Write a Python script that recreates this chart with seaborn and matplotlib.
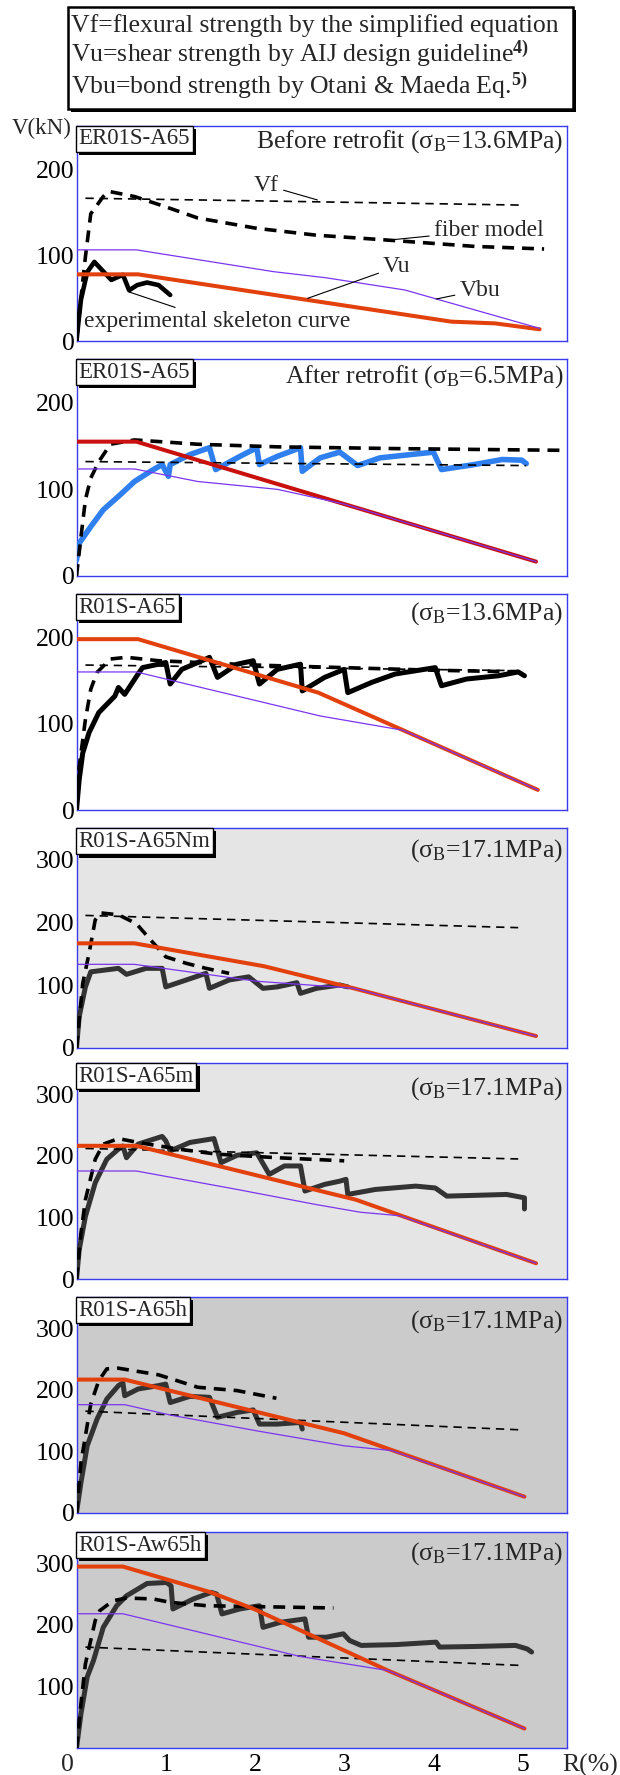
import matplotlib
matplotlib.use("Agg")
import matplotlib.pyplot as plt
import matplotlib.patheffects as pe
from matplotlib.patches import Rectangle
import seaborn as sns

# ---------------- data ----------------
panel_names = ["ER01S-A65", "ER01S-A65", "R01S-A65", "R01S-A65Nm",
               "R01S-A65m", "R01S-A65h", "R01S-Aw65h"]
panel_titles = [r"Before retrofit ($\sigma_{B}$=13.6MPa)",
                r"After retrofit ($\sigma_{B}$=6.5MPa)",
                r"($\sigma_{B}$=13.6MPa)",
                r"($\sigma_{B}$=17.1MPa)",
                r"($\sigma_{B}$=17.1MPa)",
                r"($\sigma_{B}$=17.1MPa)",
                r"($\sigma_{B}$=17.1MPa)"]
y_max = [250, 250, 250, 350, 350, 350, 350]
y_major = [[0, 100, 200], [0, 100, 200], [0, 100, 200],
           [0, 100, 200, 300], [0, 100, 200, 300], [0, 100, 200, 300],
           [100, 200, 300]]
y_minor = [[50, 150], [50, 150], [50, 150],
           [50, 150, 250], [50, 150, 250], [50, 150, 250], [50, 150, 250]]
x_ticks = [1, 2, 3, 4, 5]
x_ticklabels = ["1", "2", "3", "4", "5"]

legend_lines = ["Vf=flexural strength by the simplified equation",
                r"Vu=shear strength by AIJ design guideline$^{\mathbf{4)}}$",
                r"Vbu=bond strength by Otani & Maeda Eq.$^{\mathbf{5)}}$"]

# Panel 1 : ER01S-A65 before retrofit
p1_vf_x = [0.1, 2.0, 5.0]
p1_vf_y = [166, 163, 158]
p1_fib_x = [0, 0.05, 0.1, 0.16, 0.3, 0.36, 0.65, 1.0, 1.36, 2.02, 2.69, 3.26, 3.8, 4.46, 5.24]
p1_fib_y = [0, 50, 98, 148, 168, 174, 168, 156, 143, 131, 123, 119, 115, 110, 107]
p1_vu_x = [0, 0.69, 4.2, 4.69, 5.19]
p1_vu_y = [77.5, 77.5, 22.5, 20.5, 13.6]
p1_vbu_x = [0, 0.67, 2.21, 2.79, 3.68, 5.19]
p1_vbu_y = [106, 106, 80.6, 73.6, 59.3, 14.7]
p1_exp_x = [0, 0.02, 0.05, 0.12, 0.2, 0.39, 0.52, 0.59, 0.68, 0.79, 0.92, 1.05]
p1_exp_y = [0, 20, 48, 80, 92, 71, 77, 59, 65, 68, 65, 53.5]

# Panel 2 : ER01S-A65 after retrofit
p2_vf_x = [0.1, 5.04]
p2_vf_y = [132, 127.4]
p2_fib_x = [0, 0.05, 0.1, 0.16, 0.25, 0.38, 0.65, 1.36, 2.25, 3.57, 5.44]
p2_fib_y = [0, 45, 88, 113, 132, 152, 157, 152, 149, 147, 145]
p2_vu_x = [0, 0.67, 5.15]
p2_vu_y = [155, 155, 16.6]
p2_vbu_x = [0, 0.65, 1.36, 2.25, 3.0, 5.15]
p2_vbu_y = [123.5, 123.5, 109, 100, 83, 16.6]
p2_exp_x = [0, 0.03, 0.16, 0.3, 0.47, 0.65, 0.83, 0.96, 1.03, 1.05, 1.27, 1.49, 1.56,
            1.8, 2.02, 2.05, 2.25, 2.51, 2.53, 2.73, 2.95, 3.15, 3.4, 4.0, 4.09, 4.46,
            4.77, 4.99, 5.04]
p2_exp_y = [18.5, 37.8, 57, 76.4, 91.9, 109, 120.8, 128.6, 115, 128.6, 140, 148, 122.8,
            136.3, 148, 128.6, 138, 148, 120.8, 136.3, 142.9, 127.4, 136.3, 142.9, 122.8,
            128.6, 134.4, 133.6, 129.7]

# Panel 3 : R01S-A65
p3_vf_x = [0.1, 4.95]
p3_vf_y = [168, 161.5]
p3_fib_x = [0, 0.03, 0.1, 0.16, 0.23, 0.38, 0.56, 0.92, 1.14, 2.0, 3.0, 4.0, 5.0]
p3_fib_y = [0, 50, 105, 140, 159.5, 175, 177, 173, 172, 168, 165, 162, 160]
p3_vu_x = [0, 0.69, 2.71, 5.17]
p3_vu_y = [198, 198, 136, 23.3]
p3_vbu_x = [0, 0.67, 2.73, 3.66, 5.17]
p3_vbu_y = [160, 160, 109, 92.4, 23.3]
p3_exp_x = [0, 0.03, 0.07, 0.14, 0.25, 0.43, 0.47, 0.54, 0.69, 0.74, 0.92, 1.0, 1.05,
            1.18, 1.45, 1.49, 1.58, 1.8, 1.98, 2.05, 2.25, 2.51, 2.53, 2.78, 3.0, 3.04,
            3.31, 3.57, 4.02, 4.09, 4.37, 4.73, 4.95, 5.02]
p3_exp_y = [0, 35, 66, 89.5, 113, 132, 142, 134, 157.6, 165, 169, 171, 146, 163, 175,
            177, 153.7, 169, 173, 146, 163, 169, 138, 153.7, 163, 136, 148, 157.6, 165,
            144, 151.8, 155.6, 160, 155.6]

# Panel 4 : R01S-A65Nm
p4_vf_x = [0.1, 4.95]
p4_vf_y = [211, 191.5]
p4_fib_x = [0, 0.07, 0.14, 0.21, 0.27, 0.47, 0.67, 0.83, 1.0, 1.23, 1.45, 1.71]
p4_fib_y = [0, 102.7, 150, 204, 215, 212, 198, 172, 145, 134.6, 126.6, 118.6]
p4_vu_x = [0, 0.65, 2.1, 3.1, 5.15]
p4_vu_y = [166.5, 166.5, 130, 95, 18.6]
p4_vbu_x = [0, 0.65, 2.02, 3.1, 5.15]
p4_vbu_y = [133, 133, 106, 95, 18.6]
p4_exp_x = [0, 0.03, 0.1, 0.16, 0.47, 0.56, 0.78, 0.96, 1.0, 1.45, 1.49, 1.71, 1.93,
            2.09, 2.25, 2.47, 2.51, 2.69, 2.95, 3.04]
p4_exp_y = [0, 49.5, 97, 121, 126.6, 117, 126.6, 126.6, 97, 118.6, 94.7, 108, 113,
            94.7, 97, 103.7, 86.7, 94.7, 100, 97]

# Panel 5 : R01S-A65m
p5_vf_x = [0.1, 4.95]
p5_vf_y = [212, 195]
p5_fib_x = [0, 0.05, 0.1, 0.21, 0.3, 0.47, 0.69, 1.14, 1.58, 2.25, 3.0]
p5_fib_y = [0, 75, 129, 194.6, 219, 228, 221.7, 211, 202.7, 197, 192]
p5_vu_x = [0, 0.67, 3.13, 5.15]
p5_vu_y = [216.3, 216.3, 129, 26]
p5_vbu_x = [0, 0.67, 1.8, 2.69, 3.18, 3.62, 5.15]
p5_vbu_y = [175.5, 175.5, 145.6, 121, 108.7, 103, 26]
p5_exp_x = [0, 0.03, 0.1, 0.21, 0.34, 0.47, 0.52, 0.56, 0.69, 0.96, 1.0, 1.05, 1.27,
            1.54, 1.62, 1.8, 2.02, 2.16, 2.33, 2.51, 2.56, 2.78, 2.95, 3.02, 3.04, 3.35,
            3.8, 4.02, 4.15, 4.46, 4.82, 5.02, 5.02]
p5_exp_y = [0, 47.8, 102, 156.5, 194.6, 211, 216, 197, 219, 231.5, 224.5, 208, 221.7,
            228, 189, 201, 205, 170, 183.7, 183.7, 143, 153.8, 159, 162, 137.5, 145.6,
            151, 148, 134.8, 136, 137.5, 132, 114]

# Panel 6 : R01S-A65h
p6_vf_x = [0.1, 4.95]
p6_vf_y = [165, 134.8]
p6_fib_x = [0, 0.05, 0.1, 0.16, 0.25, 0.34, 0.47, 0.92, 1.36, 1.8, 2.24]
p6_fib_y = [0, 81.5, 125, 176.6, 214.7, 233.7, 234.8, 224, 203.8, 198.4, 186]
p6_vu_x = [0, 0.54, 3.0, 5.02]
p6_vu_y = [216.3, 216.3, 129, 26]
p6_vbu_x = [0, 0.54, 1.05, 2.02, 3.0, 3.53, 5.02]
p6_vbu_y = [175.5, 175.5, 158.7, 133, 108.7, 101, 26]
p6_exp_x = [0, 0.05, 0.12, 0.23, 0.34, 0.47, 0.52, 0.54, 0.69, 0.92, 1.0, 1.05, 1.27,
            1.49, 1.58, 1.8, 1.98, 2.05, 2.25, 2.51, 2.53]
p6_exp_y = [0, 48.9, 108.7, 152, 184.8, 206.5, 210.9, 190, 201, 206.5, 209, 179, 189,
            187.5, 155, 163, 167, 144, 144, 146.7, 136]

# Panel 7 : R01S-Aw65h
p7_vf_x = [0.1, 4.96]
p7_vf_y = [164, 134.4]
p7_fib_x = [0, 0.05, 0.1, 0.21, 0.26, 0.41, 0.56, 0.86, 1.05, 1.46, 2.88]
p7_fib_y = [0, 72.6, 137, 207, 223, 239, 243.5, 242, 236.5, 231, 227.4]
p7_vu_x = [0, 0.52, 1.5, 2.0, 3.49, 5.02]
p7_vu_y = [294.5, 294.5, 253, 225, 126, 32]
p7_vbu_x = [0, 0.52, 2.5, 3.49, 5.02]
p7_vbu_y = [218, 218, 149, 126, 32]
p7_exp_x = [0, 0.05, 0.12, 0.19, 0.30, 0.45, 0.56, 0.79, 1.01, 1.06, 1.08, 1.31, 1.51,
            1.57, 1.63, 1.83, 2.05, 2.09, 2.28, 2.56, 2.60, 2.80, 2.99, 3.06, 3.19, 3.58,
            4.03, 4.07, 4.47, 4.92, 5.05, 5.10]
p7_exp_y = [0, 56, 115.6, 142, 196, 231, 247, 267, 268.7, 263, 225.8, 242, 252.6, 250,
            217.7, 225.8, 231, 196, 204, 209.7, 180, 180, 185.5, 174.7, 166.7, 168, 172,
            164, 165, 166.7, 161, 156]

# ---------------- style ----------------
sns.set_theme(style="white")
plt.rcParams["font.family"] = ["Liberation Serif", "DejaVu Serif"]
plt.rcParams["mathtext.fontset"] = "custom"
plt.rcParams["mathtext.rm"] = "Liberation Serif"
plt.rcParams["mathtext.it"] = "Liberation Serif"
plt.rcParams["mathtext.bf"] = "Liberation Serif:bold"
plt.rcParams["mathtext.default"] = "regular"

BLUE = "#3a3af0"
VU_C = "#e2400c"
VU_C2 = "#c8100c"
VBU_C = "#7a35f0"
EXP_C = ["#000000", "#2f80ee", "#000000", "#333333", "#333333", "#333333", "#333333"]
EXP_LW = [3.3, 4.0, 3.6, 3.6, 3.6, 3.6, 3.6]
BG = ["white", "white", "white", "#e5e5e5", "#e5e5e5", "#cbcbcb", "#cbcbcb"]

W, H = 620.0, 1775.0
P_TOP = [126, 359.3, 594.3, 828.3, 1063.3, 1297.3, 1532.3]
P_BOT = [341, 576, 810, 1047.7, 1279.3, 1512.7, 1748.3]
TITLE_Y = [0.926, 0.92, 0.912, 0.90, 0.884, 0.887, 0.90]
AX_L, AX_R = 76.5, 567.3

series = [
    (p1_vf_x, p1_vf_y, p1_fib_x, p1_fib_y, p1_vu_x, p1_vu_y, p1_vbu_x, p1_vbu_y, p1_exp_x, p1_exp_y),
    (p2_vf_x, p2_vf_y, p2_fib_x, p2_fib_y, p2_vu_x, p2_vu_y, p2_vbu_x, p2_vbu_y, p2_exp_x, p2_exp_y),
    (p3_vf_x, p3_vf_y, p3_fib_x, p3_fib_y, p3_vu_x, p3_vu_y, p3_vbu_x, p3_vbu_y, p3_exp_x, p3_exp_y),
    (p4_vf_x, p4_vf_y, p4_fib_x, p4_fib_y, p4_vu_x, p4_vu_y, p4_vbu_x, p4_vbu_y, p4_exp_x, p4_exp_y),
    (p5_vf_x, p5_vf_y, p5_fib_x, p5_fib_y, p5_vu_x, p5_vu_y, p5_vbu_x, p5_vbu_y, p5_exp_x, p5_exp_y),
    (p6_vf_x, p6_vf_y, p6_fib_x, p6_fib_y, p6_vu_x, p6_vu_y, p6_vbu_x, p6_vbu_y, p6_exp_x, p6_exp_y),
    (p7_vf_x, p7_vf_y, p7_fib_x, p7_fib_y, p7_vu_x, p7_vu_y, p7_vbu_x, p7_vbu_y, p7_exp_x, p7_exp_y),
]

fig = plt.figure(figsize=(6.2, 17.75), dpi=100)


def line(ax, x, y, **kw):
    sns.lineplot(x=x, y=y, ax=ax, sort=False, estimator=None, legend=False, **kw)


axes = []
for i in range(7):
    top, bot = P_TOP[i], P_BOT[i]
    ax = fig.add_axes([AX_L / W, 1 - bot / H, (AX_R - AX_L) / W, (bot - top) / H])
    ax.set_facecolor(BG[i])
    vfx, vfy, fbx, fby, vux, vuy, vbx, vby, ex, ey = series[i]
    line(ax, ex, ey, color=EXP_C[i], lw=EXP_LW[i], zorder=3)
    line(ax, vfx, vfy, color="black", lw=1.2, linestyle=(0, (5, 3.5)), zorder=4)
    line(ax, fbx, fby, color="black", lw=2.6, linestyle=(0, (3.3, 2.2)), zorder=4)
    line(ax, vux, vuy, color=VU_C2 if i == 1 else VU_C, lw=2.9, zorder=5)
    line(ax, vbx, vby, color=VBU_C, lw=0.9, zorder=6)

    ax.set_xlim(0, 5.5)
    ax.set_ylim(0, y_max[i])
    ax.set_xlabel("")
    ax.set_ylabel("")
    ax.set_yticks(y_major[i])
    ax.set_yticks(y_minor[i], minor=True)
    ax.set_xticks(x_ticks)
    if i == 6:
        ax.set_xticklabels(x_ticklabels)
    else:
        ax.set_xticklabels([])
    ax.tick_params(axis="y", which="both", direction="in", length=6, width=1,
                   color=BLUE, labelsize=18.5, pad=1.5, labelcolor="black")
    ax.tick_params(axis="x", which="both", direction="in", length=7, width=1,
                   color=BLUE, labelsize=18.5, pad=4, labelcolor="black")
    for s in ax.spines.values():
        s.set_color(BLUE)
        s.set_linewidth(1.0)
        s.set_visible(True)

    t = ax.text(0.004, 0.989, panel_names[i], transform=ax.transAxes, ha="left",
                va="top", fontsize=16.5, zorder=10,
                bbox=dict(boxstyle="square,pad=0.12", fc="white", ec="black", lw=1.0))
    t.get_bbox_patch().set_path_effects([
        pe.SimplePatchShadow(offset=(2.2, -2.2), shadow_rgbFace="black", alpha=1.0),
        pe.Normal()])
    ax.text(0.992, TITLE_Y[i], panel_titles[i], transform=ax.transAxes, ha="right",
            va="center", fontsize=18.5, zorder=10)
    axes.append(ax)

# annotations of the first panel
ax0 = axes[0]
ann_kw = dict(fontsize=17, ha="center", va="center", zorder=10,
              arrowprops=dict(arrowstyle="-", lw=0.8, color="black", shrinkA=1, shrinkB=0))
ax0.annotate("Vf", xy=(2.70, 164), xytext=(2.13, 181), **ann_kw)
ax0.annotate("fiber model", xy=(3.47, 117), xytext=(4.62, 129), **ann_kw)
ax0.annotate("Vu", xy=(2.59, 49.6), xytext=(3.59, 86.4), **ann_kw)
ax0.annotate("Vbu", xy=(4.03, 48.8), xytext=(4.52, 59.3), **ann_kw)
ax0.annotate("experimental skeleton curve", xy=(0.59, 57), xytext=(1.58, 22.5), **ann_kw)

# legend box at the top
box = Rectangle((67.5 / W, 1 - 109 / H), (573.4 - 67.5) / W, (109 - 7.3) / H,
                transform=fig.transFigure, fc="white", ec="black", lw=1.8, zorder=1)
box.set_path_effects([pe.SimplePatchShadow(offset=(2.2, -2.2), shadow_rgbFace="black",
                                           alpha=1.0), pe.Normal()])
fig.patches.append(box)
for k, yb in enumerate([31.7, 62.7, 94.3]):
    fig.text(70.6 / W, 1 - yb / H, legend_lines[k], ha="left", va="baseline",
             fontsize=18.5, zorder=2)

fig.text(12 / W, 1 - 128.3 / H, "V(kN)", ha="left", va="center", fontsize=16.5)
fig.text(67.5 / W, 1 - 1765 / H, "0", ha="center", va="center", fontsize=18.5)
fig.text(562 / W, 1 - 1765 / H, "R(%)", ha="left", va="center", fontsize=18.5)

fig.savefig("out.png", dpi=100, facecolor="white")
